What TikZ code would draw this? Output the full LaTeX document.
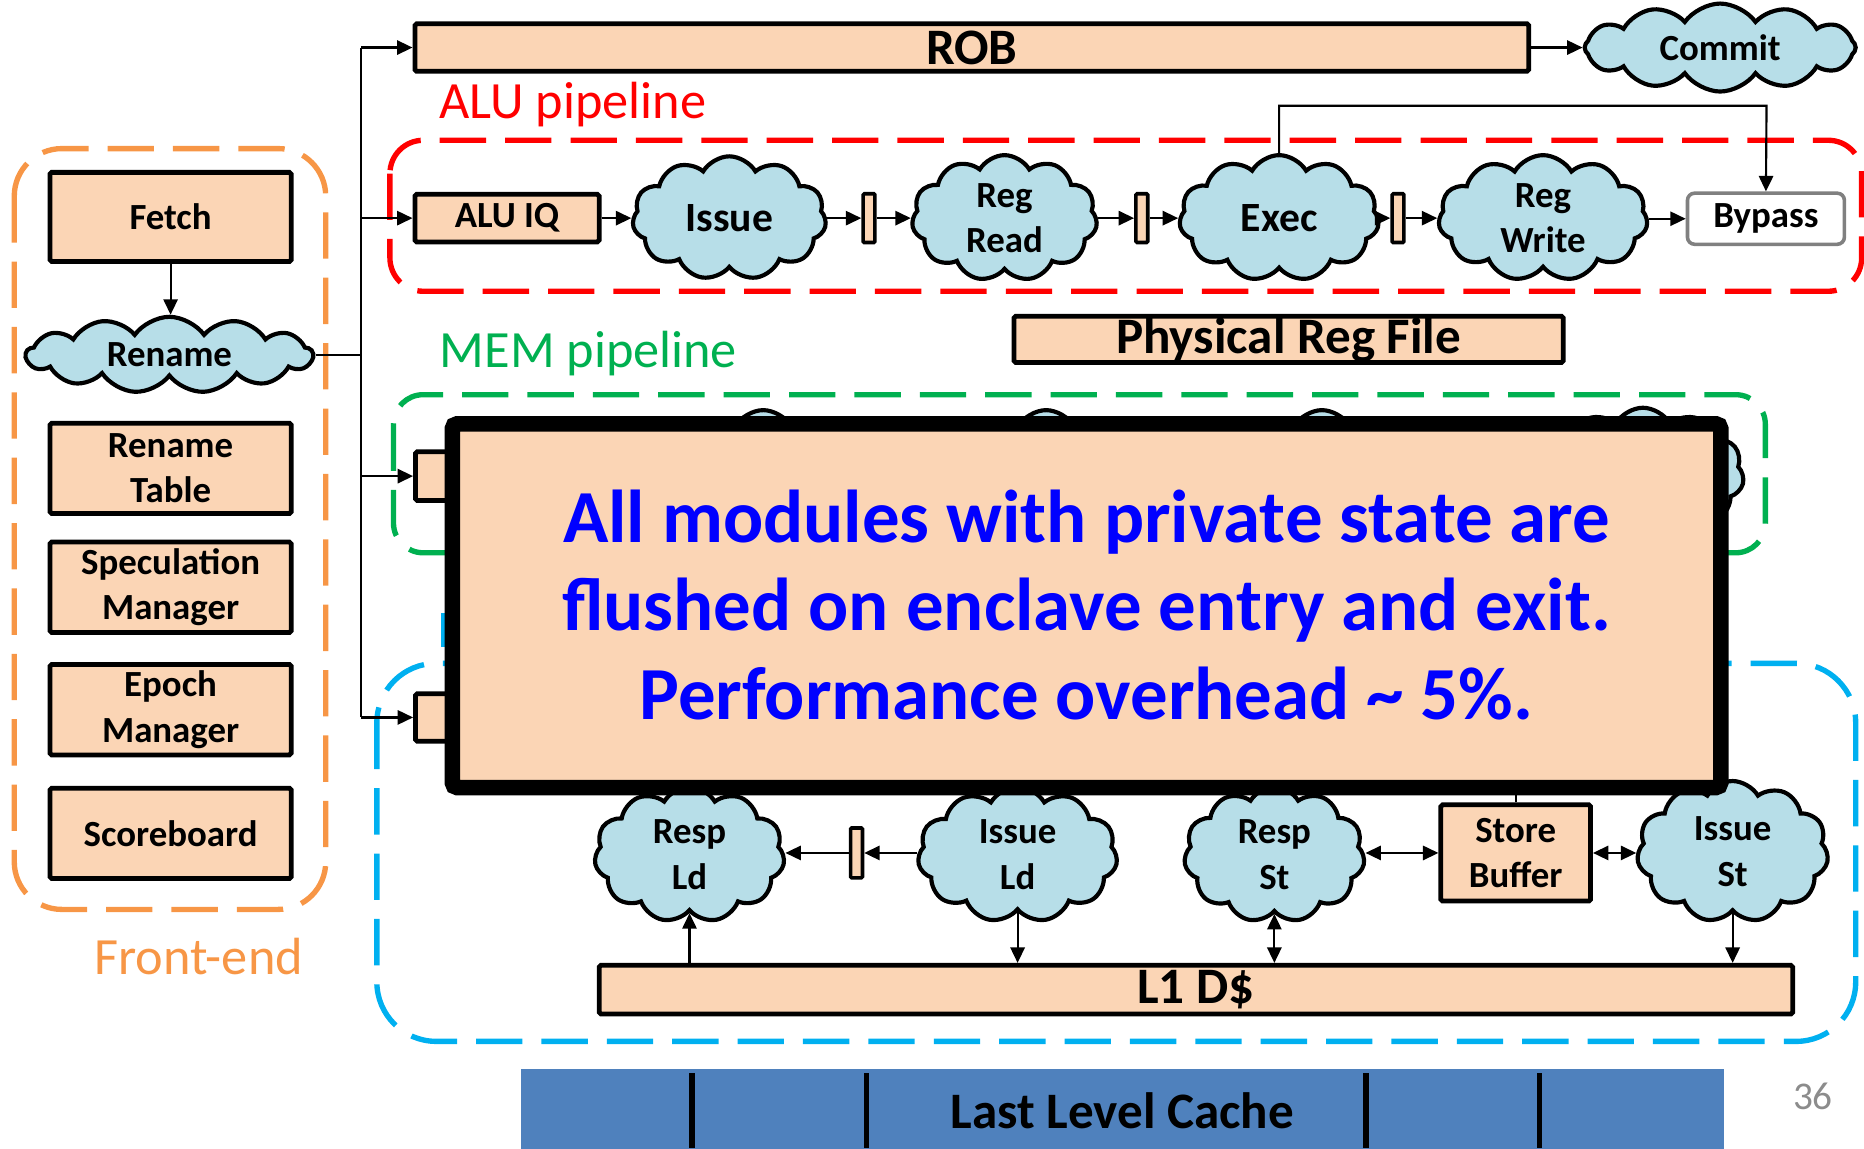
\documentclass[tikz,border=0pt]{standalone}
\usepackage{fontspec}
\setmainfont{Carlito}
\usetikzlibrary{shapes.symbols,arrows.meta,calc}

\definecolor{peach}{HTML}{FBD5B5}
\definecolor{cloudblue}{HTML}{B7DEE8}
\definecolor{alured}{HTML}{FF0000}
\definecolor{memgreen}{HTML}{00B050}
\definecolor{feorange}{HTML}{F79646}
\definecolor{lsucyan}{HTML}{00B0F0}
\definecolor{notice}{HTML}{0000FF}
\definecolor{llcblue}{HTML}{4F81BD}
\definecolor{pagegray}{HTML}{8C8C8C}
\definecolor{bypassgray}{HTML}{808080}

\newcommand\modulefont{\bfseries\fontsize{31}{38}\selectfont}
\newcommand\stagefont{\bfseries\fontsize{35}{42}\selectfont}
\newcommand\widefont{\bfseries\fontsize{43}{50}\selectfont}
\newcommand\pipefont{\fontsize{44}{52}\selectfont}
\newcommand\notefont{\bfseries\fontsize{63}{75}\selectfont}

\tikzset{
  unit/.style={draw, line width=4pt, fill=peach, rectangle, rounded corners=1.5pt,
    inner sep=0pt, align=center, font=\modulefont},
  puff/.style={cloud, cloud puffs=11, cloud puff arc=120, cloud ignores aspect,
    draw, line width=3.5pt, fill=cloudblue, inner sep=0pt, align=center, font=\modulefont},
  latch/.style={draw, line width=3pt, fill=peach, minimum width=10pt,
    minimum height=41pt, inner sep=0pt, rounded corners=1pt},
  wire/.style={line width=1.8pt},
  flow/.style={wire, -{Triangle[length=13pt,width=12pt]}},
  twoway/.style={wire, {Triangle[length=13pt,width=12pt]}-{Triangle[length=13pt,width=12pt]}},
  region/.style={line width=4.5pt, dash pattern=on 39pt off 16pt},
}

\begin{document}
\begin{tikzpicture}[x=1pt,y=-1pt]
\useasboundingbox (0,0) rectangle (1568,966);

% ---- dashed grouping regions ----
\draw[region, feorange, rounded corners=40pt] (12,125) rectangle (274,765);
\draw[region, alured, rounded corners=28pt] (328,118) rectangle (1566,245);
\draw[region, memgreen, rounded corners=25pt] (331,332) rectangle (1485,465);
\draw[region, lsucyan, rounded corners=50pt] (317,558) rectangle (1561,876);

% ---- region labels ----
\node[font=\pipefont, text=alured] (alulabel) at (482,88) {ALU pipeline};
\node[font=\pipefont, text=memgreen] (memlabel) at (495,297) {MEM pipeline};
\node[font=\pipefont, text=feorange] (felabel) at (167,805) {Front-end};

% ---- front-end ----
\node[unit, minimum width=203pt, minimum height=75pt] (fetch) at (143.5,182.5) {Fetch};
\node[puff, cloud puffs=13, cloud puff arc=110, minimum width=241pt, minimum height=64pt] (rename) at (142.5,298.5) {Rename};
\node[unit, minimum width=203pt, minimum height=76pt] (rtable) at (143.5,394) {Rename\\Table};
\node[unit, minimum width=203pt, minimum height=76pt] (specmgr) at (143.5,494) {Speculation\\Manager};
\node[unit, minimum width=203pt, minimum height=76pt] (epochmgr) at (143.5,597) {Epoch\\Manager};
\node[unit, minimum width=203pt, minimum height=76pt] (scoreboard) at (143.5,701) {Scoreboard};

% ---- reorder buffer and commit ----
\node[unit, font=\widefont, minimum width=937pt, minimum height=40pt] (rob) at (817.5,40) {ROB};
\node[puff, cloud puffs=12, cloud puff arc=110, minimum width=228pt, minimum height=74pt] (commit) at (1447,40) {Commit};

% ---- ALU pipeline ----
\node[unit, minimum width=155pt, minimum height=40pt] (aluiq) at (426.5,183.5) {ALU IQ};
\node[puff, font=\stagefont, minimum width=163pt, minimum height=104pt] (issue) at (613.5,183.5) {Issue};
\node[latch] (lata) at (731,183.5) {};
\node[puff, minimum width=156pt, minimum height=106pt] (regread) at (845,183.5) {Reg\\Read};
\node[latch] (latb) at (960.5,183.5) {};
\node[puff, font=\stagefont, minimum width=168pt, minimum height=106pt] (exec) at (1076,183.5) {Exec};
\node[latch] (latc) at (1176,183.5) {};
\node[puff, minimum width=176pt, minimum height=106pt] (regwrite) at (1298,183.5) {Reg\\Write};
\node[draw=bypassgray, line width=3pt, fill=white, rounded corners=6pt, inner sep=0pt,
  font=\modulefont, minimum width=132pt, minimum height=43pt] (bypass) at (1485.5,184) {Bypass};
\node[unit, font=\widefont, minimum width=462pt, minimum height=39pt] (prf) at (1084,285.5) {Physical Reg File};

% ---- MEM pipeline ----
\node[unit, minimum width=117pt, minimum height=41pt] (memiq) at (408,400.5) {};
\node[puff, minimum width=175pt, minimum height=110pt] (mema) at (642,400) {};
\node[puff, minimum width=175pt, minimum height=110pt] (memb) at (880,400) {};
\node[puff, minimum width=175pt, minimum height=110pt] (memc) at (1112,400) {};
\node[puff, minimum width=170pt, minimum height=112pt] (memd) at (1382,399) {};

% ---- load/store pipeline ----
\fill[lsucyan] (371,516) rectangle (376,544);
\node[unit, minimum width=117pt, minimum height=40pt] (lsuiq) at (408,603.5) {};
\node[puff, minimum width=160pt, minimum height=114pt] (respld) at (580,719) {Resp\\Ld};
\node[latch, minimum height=42pt] (latd) at (720.5,717.5) {};
\node[puff, minimum width=168pt, minimum height=114pt] (issueld) at (856,719) {Issue\\Ld};
\node[puff, minimum width=152pt, minimum height=114pt] (respst) at (1072,719) {Resp\\St};
\node[unit, minimum width=126pt, minimum height=81pt] (stbuf) at (1275,717.5) {Store\\Buffer};
\node[puff, minimum width=161pt, minimum height=119pt] (issuest) at (1457.5,716.5) {Issue\\St};
\node[unit, font=\widefont, minimum width=1004pt, minimum height=41pt] (dcache) at (1006,832.5) {L1 D\$};

% ---- last level cache ----
\node[fill=llcblue, inner sep=0pt, minimum width=1012pt, minimum height=70pt,
  font=\widefont] (llc) at (944,934) {Last Level Cache};
\foreach \dx in {582,729,1149,1295}
  \draw[line width=4.5pt] (\dx,903) -- (\dx,966);

% ---- dispatch spine ----
\coordinate (spine) at (304,0);
\draw[wire] (rename.east) -- (spine |- rename.east);
\draw[wire] (spine |- rob.west) -- (spine |- lsuiq.west);
\draw[flow] (spine |- rob.west) -- (rob.west);
\draw[flow] (spine |- aluiq.west) -- (aluiq.west);
\draw[flow] (spine |- memiq.west) -- (memiq.west);
\draw[flow] (spine |- lsuiq.west) -- (lsuiq.west);
\draw[flow] (fetch.south) -- (rename.north -| fetch.south);
\draw[flow] (rob.east) -- (commit.west |- rob.east);

% ---- ALU stage connectors ----
\draw[flow] (aluiq.east) -- (issue.west |- aluiq.east);
\draw[flow] (issue.east |- lata.west) -- (lata.west);
\draw[flow] (lata.east) -- (regread.west |- lata.east);
\draw[flow] (regread.east |- latb.west) -- (latb.west);
\draw[flow] (latb.east) -- (exec.west |- latb.east);
\draw[flow] (exec.east |- latc.west) -- (latc.west);
\draw[flow] (latc.east) -- (regwrite.west |- latc.east);
\draw[flow] (regwrite.east |- bypass.west) -- (bypass.west);
\coordinate (tap) at (1486,89);
\draw[flow] (exec.north) |- (tap) -- (bypass.north);

% ---- load/store connectors ----
\coordinate (sbup) at (1275,660);
\draw[wire] (stbuf.north) -- (sbup);
\draw[flow] (issueld.west |- latd.east) -- (latd.east);
\draw[flow] (latd.west) -- (respld.east |- latd.west);
\draw[twoway] (respst.east |- stbuf.west) -- (stbuf.west);
\draw[twoway] (stbuf.east) -- (issuest.west |- stbuf.east);
\draw[flow] (respld.south |- dcache.north) -- (respld.south);
\draw[flow] (issueld.south) -- (issueld.south |- dcache.north);
\draw[twoway] (respst.south) -- (respst.south |- dcache.north);
\draw[flow] (issuest.south) -- (issuest.south |- dcache.north);

% ---- notice panel ----
\node[draw, line width=13pt, fill=peach, rounded corners=4pt, inner sep=0pt,
  minimum width=1067pt, minimum height=306pt] (notebox) at (914,509.5) {};
\node[font=\notefont, text=notice, anchor=base] (noteA) at (914,456) {All modules with private state are};
\node[font=\notefont, text=notice, anchor=base] (noteB) at (914,530) {flushed on enclave entry and exit.};
\node[font=\notefont, text=notice, anchor=base] (noteC) at (914,605) {Performance overhead \textasciitilde\ 5\%.};

% ---- slide number ----
\node[font=\fontsize{33}{40}\selectfont, text=pagegray] (pagenum) at (1525,922) {36};
\end{tikzpicture}
\end{document}
